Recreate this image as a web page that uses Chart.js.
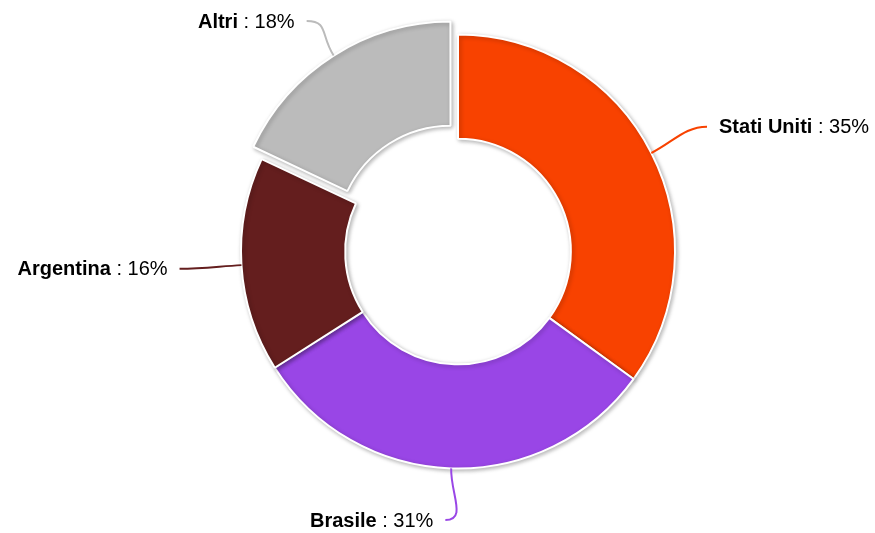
<!DOCTYPE html>
<html>
<head>
<meta charset="utf-8">
<script src="https://cdn.jsdelivr.net/npm/chart.js@4.4.1/dist/chart.umd.min.js"></script>
<style>
  html, body { margin: 0; padding: 0; background: #fff; }
  #wrap { width: 875px; height: 533px; }
</style>
</head>
<body>
<div id="wrap"><canvas id="myChart"></canvas></div>
<script>
var paesi = ["Stati Uniti", "Brasile", "Argentina", "Altri"];
var quote = [35, 31, 16, 18];
var colori = ["#F84200", "#9946E6", "#641E1E", "#BBBBBB"];
var spostamento = [0, 0, 0, 55]; // Altri staccato

var FONT = "Liberation Sans, Arial, sans-serif";
var DIM = 20;

// ombra leggera sotto le fette
var ombra = {
  id: "ombra",
  beforeDatasetDraw: function (chart) {
    var c = chart.ctx;
    c.save();
    c.shadowColor = "rgba(0,0,0,0.28)";
    c.shadowBlur = 4;
    c.shadowOffsetX = 1.5;
    c.shadowOffsetY = 1.5;
  },
  afterDatasetDraw: function (chart) {
    chart.ctx.restore();
  }
};

// etichette esterne con linea curva
var etichette = {
  id: "etichette",
  afterDatasetsDraw: function (chart) {
    var c = chart.ctx;
    var meta = chart.getDatasetMeta(0);
    var tot = quote.reduce(function (a, b) { return a + b; }, 0);
    meta.data.forEach(function (arc, i) {
      var p = arc.getProps(["x", "y", "startAngle", "endAngle", "outerRadius"], true);
      var mid = (p.startAngle + p.endAngle) / 2;
      var cos = Math.cos(mid), sin = Math.sin(mid);
      var off = (spostamento[i] / 4) * (1 + (1 - Math.sin(Math.min(Math.PI, p.endAngle - p.startAngle))));
      var sx = p.x + cos * (p.outerRadius + off);
      var sy = p.y + sin * (p.outerRadius + off);
      var ex = p.x + cos * (p.outerRadius + 58);
      var ey = p.y + sin * (p.outerRadius + 58);
      ey = Math.max(21, Math.min(chart.height - 13, ey));
      var destra = cos >= 0;
      var dirx = destra ? 1 : -1;
      ex += dirx * 4;

      c.save();
      c.strokeStyle = colori[i];
      c.lineWidth = 2;
      c.beginPath();
      c.moveTo(sx, sy);
      c.bezierCurveTo(sx + cos * 25, sy + sin * 25, ex - dirx * 22, ey, ex, ey);
      c.stroke();

      var nome = paesi[i];
      var resto = " : " + Math.round(quote[i] / tot * 100) + "%";
      c.fillStyle = "#000";
      c.textBaseline = "middle";
      c.font = "bold " + DIM + "px " + FONT;
      var w1 = c.measureText(nome).width;
      c.font = DIM + "px " + FONT;
      var w2 = c.measureText(resto).width;
      var tx = destra ? ex + 12 : ex - 12 - w1 - w2;
      var ty = ey + 1;
      c.font = "bold " + DIM + "px " + FONT;
      c.textAlign = "left";
      c.fillText(nome, tx, ty);
      c.font = DIM + "px " + FONT;
      c.fillText(resto, tx + w1, ty);
      c.restore();
    });
  }
};

var ctx = document.getElementById("myChart").getContext("2d");
var myChart = new Chart(ctx, {
  type: "doughnut",
  data: {
    labels: paesi,
    datasets: [{
      data: quote,
      backgroundColor: colori,
      borderColor: "#ffffff",
      borderWidth: 2,
      offset: spostamento,
      hoverOffset: 0
    }]
  },
  options: {
    responsive: true,
    maintainAspectRatio: false,
    animation: false,
    cutout: "52%",
    radius: 217,
    layout: { padding: { left: 41, right: 0, top: 0, bottom: 30 } },
    plugins: {
      legend: { display: false },
      tooltip: { enabled: false }
    }
  },
  plugins: [ombra, etichette]
});
</script>
</body>
</html>
